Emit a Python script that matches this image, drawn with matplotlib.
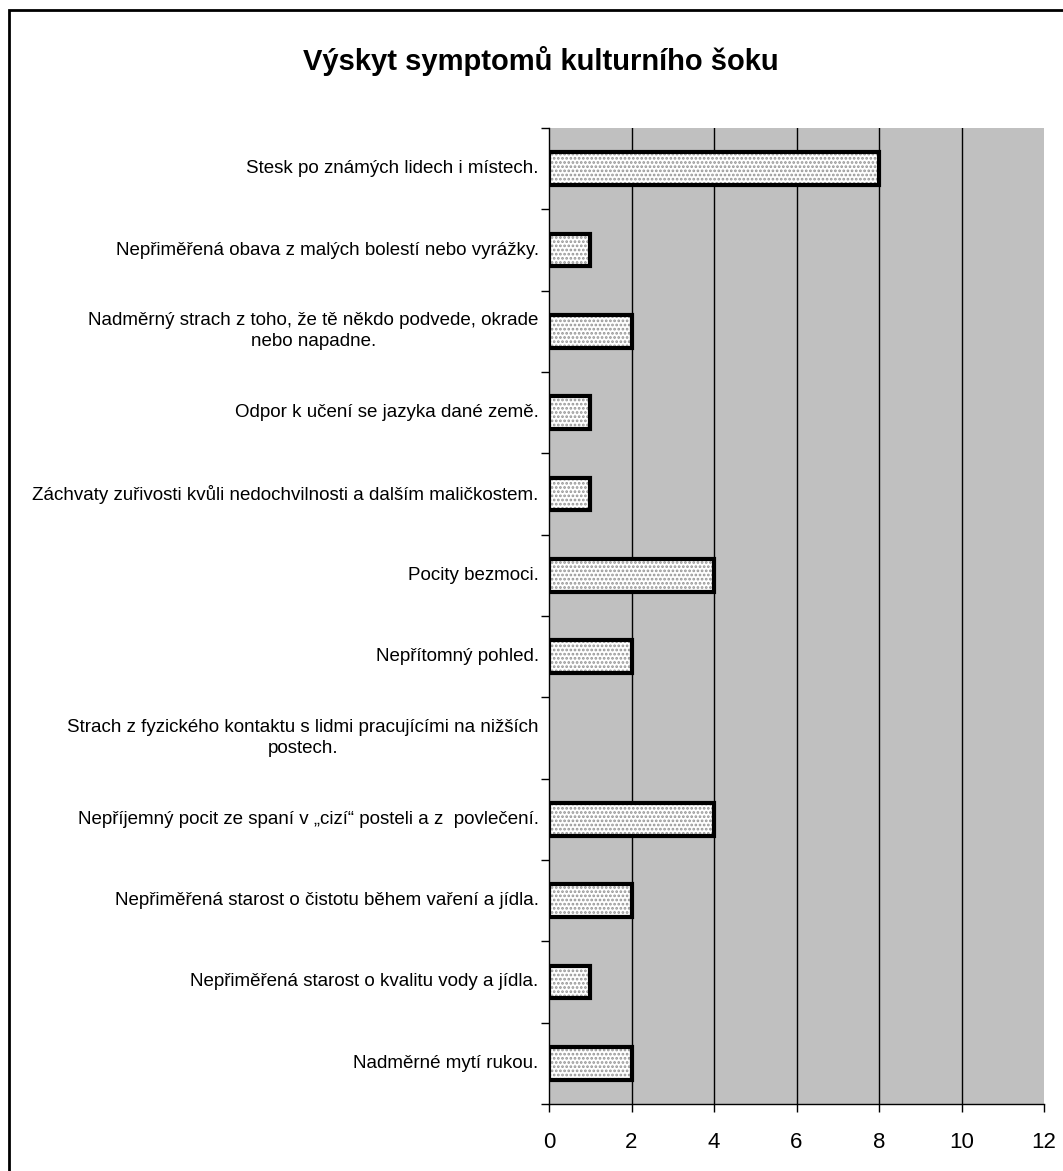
import matplotlib.pyplot as plt
from matplotlib.patches import Rectangle

# symptom counts, listed top to bottom as shown
labels = [
    "Stesk po známých lidech i místech.",
    "Nepřiměřená obava z malých bolestí nebo vyrážky.",
    "Nadměrný strach z toho, že tě někdo podvede, okrade\nnebo napadne.",
    "Odpor k učení se jazyka dané země.",
    "Záchvaty zuřivosti kvůli nedochvilnosti a dalším maličkostem.",
    "Pocity bezmoci.",
    "Nepřítomný pohled.",
    "Strach z fyzického kontaktu s lidmi pracujícími na nižších\npostech.",
    "Nepříjemný pocit ze spaní v „cizí“ posteli a z  povlečení.",
    "Nepřiměřená starost o čistotu během vaření a jídla.",
    "Nepřiměřená starost o kvalitu vody a jídla.",
    "Nadměrné mytí rukou.",
]
counts = [8, 1, 2, 1, 1, 4, 2, 0, 4, 2, 1, 2]
xticks = [0, 2, 4, 6, 8, 10, 12]
title = "Výskyt symptomů kulturního šoku"

W, H = 1063, 1171
plt.rcParams['font.family'] = ['Liberation Sans Narrow', 'Liberation Sans', 'DejaVu Sans']
plt.rcParams['hatch.linewidth'] = 1.3

fig = plt.figure(figsize=(W / 100, H / 100), dpi=100)
# plot area in pixels: x 549..1044, y 128..1104
ax = fig.add_axes([549 / W, 1 - 1104 / H, (1044 - 549) / W, (1104 - 128) / H])
ax.set_facecolor('#c0c0c0')

n = len(labels)
ypos = list(range(n))
# hatched fill (gray dots) and black outline drawn separately
ax.barh(ypos, counts, height=0.4, color='white', edgecolor='#959595',
        hatch='....', linewidth=0, zorder=3)
ax.barh(ypos, counts, height=0.4, color='none', edgecolor='black',
        linewidth=[3 if c > 0 else 0 for c in counts], zorder=4)

ax.set_ylim(n - 0.5, -0.5)
ax.set_xlim(0, 12)
ax.set_xticks(xticks)
ax.set_xticklabels([str(t) for t in xticks], family='Liberation Sans', fontsize=16)
for t in xticks[1:-1]:
    ax.axvline(t, color='black', linewidth=1, zorder=2)

# category separators as tick marks
ax.set_yticks([i - 0.5 for i in range(n + 1)])
ax.set_yticklabels([])
ax.tick_params(axis='y', direction='out', length=6, width=1)
ax.tick_params(axis='x', direction='out', length=6, width=1, pad=14)
for i, lab in enumerate(labels):
    ax.text(-0.25, i, lab, ha='right', va='center', multialignment='center',
            fontsize=13.5, linespacing=1.3, transform=ax.transData)

for s in ['top', 'right']:
    ax.spines[s].set_visible(False)
ax.spines['left'].set_linewidth(1)
ax.spines['bottom'].set_linewidth(1)

fig.text(541 / W, 1 - 61 / H, title, ha='center', va='center',
         fontsize=21, fontweight='bold', family='Liberation Sans')

# outer frame
fig.patches.append(Rectangle((9 / W, -0.01), 1.02, 1 - 10 / H + 0.01,
                             transform=fig.transFigure, fill=False,
                             edgecolor='black', linewidth=2))

fig.savefig('out.png', dpi=100)
